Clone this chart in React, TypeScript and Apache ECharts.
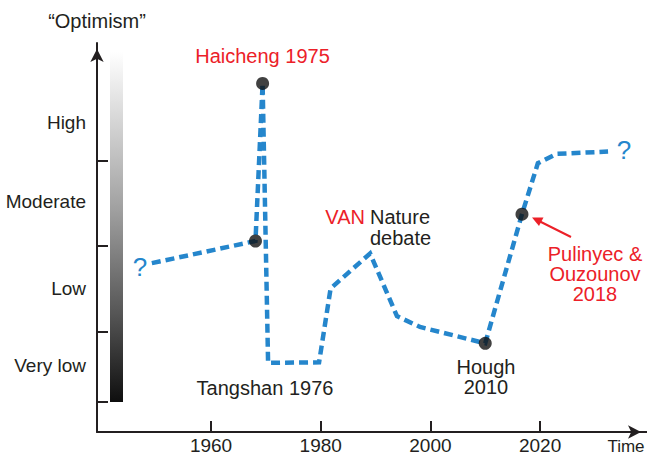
import React, { useEffect, useRef } from "react";
import * as echarts from "echarts";

// Optimism trajectory (year, optimism index 0-100)
const years = [1949.2, 1968.1, 1969.4, 1970.4, 1979.7, 1981.8, 1989.0, 1993.9, 1998.1, 2010.0, 2016.7, 2019.6, 2023.0, 2032.4];
const optimism = [43.4, 49.1, 89.6, 17.8, 17.9, 36.9, 45.9, 29.8, 27.0, 22.8, 56.0, 69.1, 71.5, 72.1];

// Highlighted events (black dots)
const eventYears = [1968.1, 1969.4, 2010.0, 2016.7];
const eventValues = [49.1, 89.6, 22.8, 56.0];

// Axis ticks and labels
const xTicks = [1960, 1980, 2000, 2020];
const yTickValues = [7.7, 25.7, 47.8, 69.7];
const yLabelValues = [17.0, 37.0, 59.2, 79.5];
const yLabelNames = ["Very low", "Low", "Moderate", "High"];

const FONT = "'Liberation Sans', Arial, Helvetica, sans-serif";
const BLUE = "#2586cc";
const RED = "#ec2028";
const INK = "#231f20";

export default function App() {
  const ref = useRef<HTMLDivElement>(null);
  useEffect(() => {
    if (!ref.current) return;
    const chart = echarts.init(ref.current, undefined, { renderer: "svg" });
    const labelMap: Record<string, string> = {};
    yLabelValues.forEach((v, i) => (labelMap[String(v)] = yLabelNames[i]));
    const t = (x: number, y: number, text: string, fill: string, align = "center", size = 20) => ({
      type: "text",
      x,
      y,
      style: { text, fill, font: `${size}px ${FONT}`, align, verticalAlign: "middle", lineHeight: size },
    });
    chart.setOption({
      animation: false,
      backgroundColor: "#ffffff",
      textStyle: { fontFamily: FONT },
      grid: { left: 97, right: 0, top: 43, bottom: 24, containLabel: false, outerBoundsMode: "none" },
      xAxis: {
        type: "value",
        min: 1939.2,
        max: 2039.5,
        splitLine: { show: false },
        axisLine: {
          show: true,
          lineStyle: { color: INK, width: 2 },
          symbol: ["none", "arrow"],
          symbolSize: [10, 13],
          symbolOffset: [0, -6],
        },
        axisTick: { show: true, inside: true, length: 11, customValues: xTicks, lineStyle: { color: INK, width: 2 } },
        axisLabel: {
          customValues: xTicks,
          margin: 5,
          fontSize: 19,
          lineHeight: 17,
          color: INK,
          fontFamily: FONT,
          formatter: (v: number) => String(v),
        },
      },
      yAxis: {
        type: "value",
        min: 0,
        max: 100,
        name: "\u201cOptimism\u201d",
        nameLocation: "end",
        nameGap: 12,
        nameTextStyle: { fontSize: 20, color: INK, fontFamily: FONT, align: "center" },
        splitLine: { show: false },
        axisLine: {
          show: true,
          lineStyle: { color: INK, width: 2 },
          symbol: ["none", "arrow"],
          symbolSize: [10, 13],
          symbolOffset: [0, -6],
        },
        axisTick: { show: true, inside: true, length: 11, customValues: yTickValues, lineStyle: { color: INK, width: 2 } },
        axisLabel: {
          customValues: yLabelValues,
          margin: 11,
          fontSize: 19,
          color: INK,
          fontFamily: FONT,
          formatter: (v: number) => labelMap[String(v)] ?? "",
        },
      },
      graphic: [
        {
          type: "rect",
          shape: { x: 110, y: 52, width: 13, height: 350 },
          style: {
            fill: new echarts.graphic.LinearGradient(0, 0, 0, 1, [
              { offset: 0, color: "#ffffff" },
              { offset: 0.12, color: "#e6e6e6" },
              { offset: 0.45, color: "#a0a0a0" },
              { offset: 0.75, color: "#555555" },
              { offset: 1, color: "#0e0e0e" },
            ]),
          },
          z: 1,
        },
        t(262.5, 56, "Haicheng 1975", RED),
        t(265, 388, "Tangshan 1976", INK),
        t(365, 217, "VAN", RED, "right"),
        t(370, 217, "Nature", INK, "left"),
        t(370, 238, "debate", INK, "left"),
        t(486, 367, "Hough", INK),
        t(486, 387, "2010", INK),
        t(595, 254, "Pulinyec &", RED),
        t(595, 274, "Ouzounov", RED),
        t(595, 294, "2018", RED),
        t(140, 267, "?", BLUE, "center", 26),
        t(624, 150, "?", BLUE, "center", 26),
        t(626, 446, "Time", INK, "center", 17),
        { type: "line", shape: { x1: 571, y1: 237, x2: 540, y2: 221.5 }, style: { stroke: RED, lineWidth: 2 } },
        { type: "polygon", shape: { points: [[532, 217.5], [543.5, 217.5], [539, 226]] }, style: { fill: RED } },
      ],
      series: [
        {
          type: "line",
          data: years.map((y, i) => [y, optimism[i]]),
          symbol: "none",
          lineStyle: { color: BLUE, width: 4.5, type: [9, 5], cap: "butt", join: "miter" },
          z: 2,
        },
        {
          type: "scatter",
          data: eventYears.map((y, i) => [y, eventValues[i]]),
          symbolSize: 13,
          itemStyle: { color: "#111111" },
          z: 3,
        },
      ],
    });
    return () => chart.dispose();
  }, []);
  return <div ref={ref} style={{ position: "fixed", left: 0, top: 0, width: 647, height: 456 }} />;
}
